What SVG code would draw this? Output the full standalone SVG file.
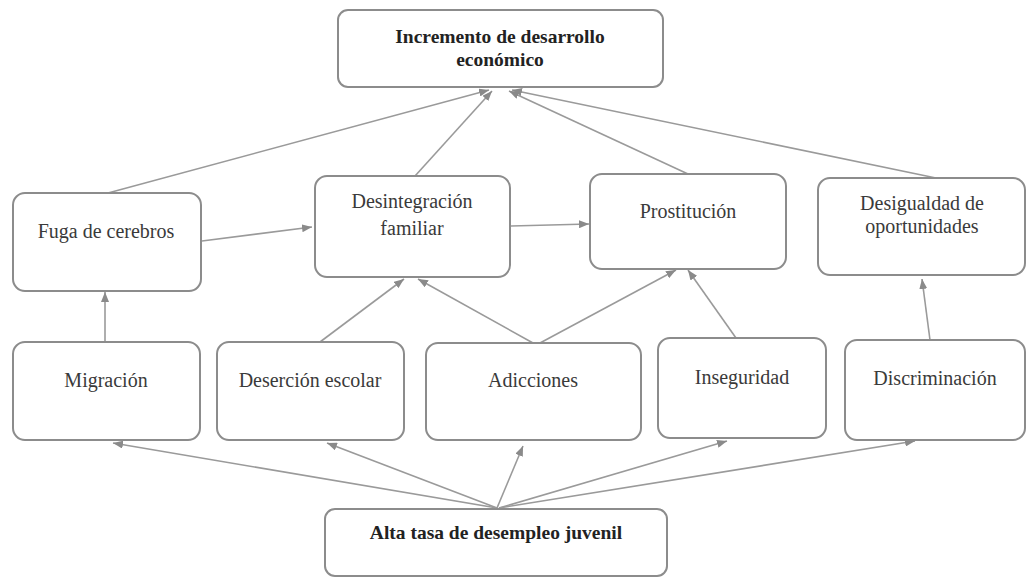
<svg xmlns="http://www.w3.org/2000/svg" width="1031" height="577" viewBox="0 0 1031 577">
<defs>
<marker id="arr" markerUnits="userSpaceOnUse" markerWidth="10" markerHeight="8" refX="10" refY="4" orient="auto">
<path d="M0,0 L10,4 L0,8 z" fill="#8a8a8a"/>
</marker>
<style>
.box{fill:#fff;stroke:#8c8c8c;stroke-width:2}
.t{font-family:"Liberation Serif","Times New Roman",serif;font-size:20px;fill:#3a3a3a;text-anchor:middle}
.b{font-weight:bold;fill:#222;font-size:19.5px}
.c{stroke:#9a9a9a;stroke-width:1.6;fill:none;marker-end:url(#arr)}
</style>
</defs>
<rect width="1031" height="577" fill="#fff"/>
<g id="connectors">
<line class="c" x1="108" y1="193" x2="489" y2="90"/>
<line class="c" x1="415" y1="176" x2="492" y2="91"/>
<line class="c" x1="688" y1="174" x2="509" y2="91"/>
<line class="c" x1="936" y1="178" x2="512" y2="90"/>
<line class="c" x1="202" y1="241" x2="312" y2="227"/>
<line class="c" x1="511" y1="226" x2="589" y2="224"/>
<line class="c" x1="105" y1="342" x2="105" y2="292"/>
<line class="c" x1="320" y1="342" x2="404" y2="279"/>
<line class="c" x1="533" y1="343" x2="418" y2="279"/>
<line class="c" x1="540" y1="343" x2="676" y2="270"/>
<line class="c" x1="736" y1="338" x2="688" y2="270"/>
<line class="c" x1="930" y1="340" x2="922" y2="279"/>
<line class="c" x1="497" y1="508" x2="113" y2="443"/>
<line class="c" x1="497" y1="508" x2="327" y2="443"/>
<line class="c" x1="497" y1="508" x2="523" y2="446"/>
<line class="c" x1="499" y1="508" x2="727" y2="441"/>
<line class="c" x1="499" y1="508" x2="915" y2="441"/>
</g>
<g id="n-top">
<rect class="box" x="338" y="10" width="325" height="77" rx="10"/>
<text class="t b" x="500" y="43">Incremento de desarrollo</text>
<text class="t b" x="500" y="66">económico</text>
</g>
<g id="n-fuga">
<rect class="box" x="13" y="193" width="188" height="98" rx="12"/>
<text class="t" x="106" y="238">Fuga de cerebros</text>
</g>
<g id="n-desintegracion">
<rect class="box" x="315" y="176" width="195" height="101" rx="12"/>
<text class="t" x="412" y="208">Desintegración</text>
<text class="t" x="412" y="235">familiar</text>
</g>
<g id="n-prostitucion">
<rect class="box" x="590" y="174" width="196" height="95" rx="12"/>
<text class="t" x="688" y="218">Prostitución</text>
</g>
<g id="n-desigualdad">
<rect class="box" x="818" y="178" width="207" height="97" rx="12"/>
<text class="t" x="922" y="210">Desigualdad de</text>
<text class="t" x="922" y="233">oportunidades</text>
</g>
<g id="n-migracion">
<rect class="box" x="13" y="342" width="187" height="98" rx="12"/>
<text class="t" x="106" y="387">Migración</text>
</g>
<g id="n-desercion">
<rect class="box" x="217" y="342" width="187" height="98" rx="12"/>
<text class="t" x="310" y="387">Deserción escolar</text>
</g>
<g id="n-adicciones">
<rect class="box" x="426" y="343" width="215" height="97" rx="12"/>
<text class="t" x="533" y="387">Adicciones</text>
</g>
<g id="n-inseguridad">
<rect class="box" x="658" y="338" width="168" height="100" rx="12"/>
<text class="t" x="742" y="384">Inseguridad</text>
</g>
<g id="n-discriminacion">
<rect class="box" x="845" y="340" width="180" height="100" rx="12"/>
<text class="t" x="935" y="385">Discriminación</text>
</g>
<g id="n-alta">
<rect class="box" x="325" y="509" width="342" height="67" rx="10"/>
<text class="t b" x="496" y="539">Alta tasa de desempleo juvenil</text>
</g>
</svg>
